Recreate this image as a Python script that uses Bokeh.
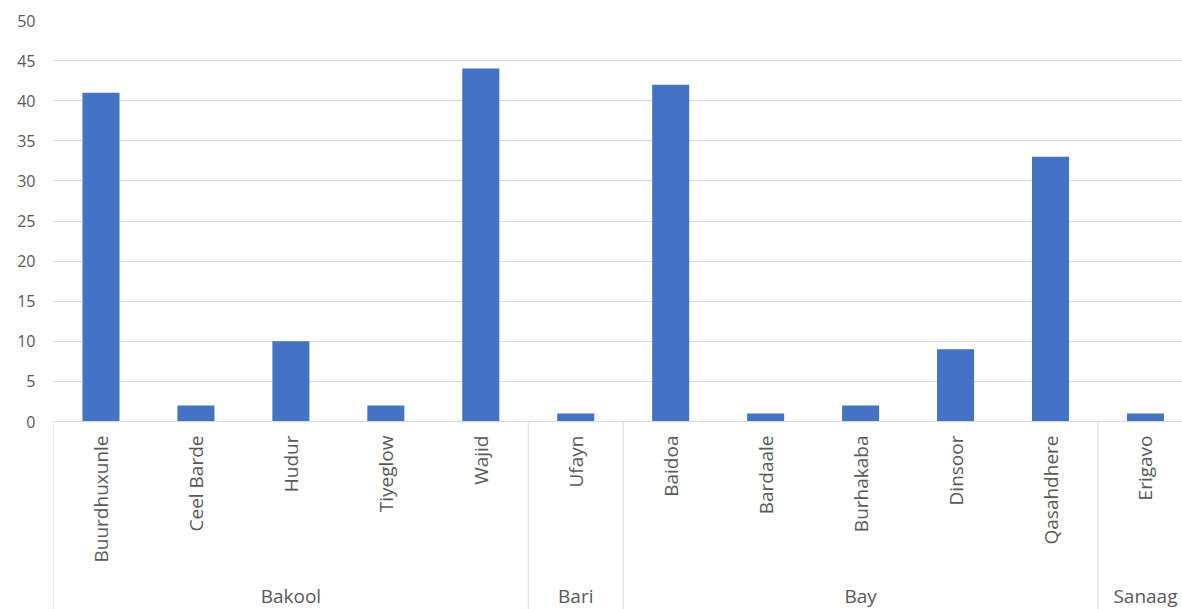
import math

from bokeh.plotting import figure
from bokeh.models import Range1d, LinearAxis, FixedTicker
from bokeh.embed import file_html
from bokeh.resources import INLINE

# Districts grouped by region, with their counts
regions = ["Bakool", "Bakool", "Bakool", "Bakool", "Bakool",
           "Bari",
           "Bay", "Bay", "Bay", "Bay", "Bay",
           "Sanaag"]
districts = ["Buurdhuxunle", "Ceel Barde", "Hudur", "Tiyeglow", "Wajid",
             "Ufayn",
             "Baidoa", "Bardaale", "Burhakaba", "Dinsoor", "Qasahdhere",
             "Erigavo"]
counts = [41, 2, 10, 2, 44, 1, 42, 1, 2, 9, 33, 1]
y_ticks = [0, 5, 10, 15, 20, 25, 30, 35, 40, 45, 50]

FONT = "Open Sans"
TEXT = "#595959"
GRID = "#d9d9d9"
BAR = "#4472C4"

# one slot per district, regions laid out as runs of consecutive slots
pos = list(range(len(districts)))
group_names, group_first, group_last = [], [], []
for i, reg in enumerate(regions):
    if not group_names or group_names[-1] != reg:
        group_names.append(reg)
        group_first.append(i)
        group_last.append(i)
    else:
        group_last[-1] = i
group_centers = [(a + b) / 2 for a, b in zip(group_first, group_last)]
group_edges = [a - 0.5 for a in group_first]

# the visible window stops a little short of the last slot's right edge
x_range = Range1d(-0.5, len(districts) - 0.61)
y_range = Range1d(-23.44, 50)

p = figure(width=1182, height=609, x_range=x_range, y_range=y_range,
           output_backend="svg", toolbar_location=None,
           x_axis_location=None, y_axis_location=None,
           min_border_left=53, min_border_right=0,
           min_border_top=20, min_border_bottom=0)
p.outline_line_color = None
p.background_fill_color = "white"
p.border_fill_color = "white"

# value axis
yticker = FixedTicker(ticks=y_ticks)
yaxis = LinearAxis(ticker=yticker, axis_line_color=None,
                   major_tick_line_color=None, minor_tick_line_color=None,
                   major_tick_out=0, major_tick_in=0, major_label_standoff=18,
                   major_label_text_font=FONT, major_label_text_font_size="16px",
                   major_label_text_color=TEXT)
p.add_layout(yaxis, "left")
p.ygrid.ticker = yticker
p.ygrid.grid_line_color = GRID
p.ygrid.grid_line_width = 1
p.xgrid.grid_line_color = None

# region boundaries running down through the label area
p.segment(x0=group_edges, y0=0, x1=group_edges, y1=y_range.start,
          line_color=GRID, line_width=1)

p.vbar(x=pos, top=counts, width=0.39, color=BAR, line_color=None)

# district names, standing on the zero line
district_axis = LinearAxis(
    fixed_location=0, ticker=FixedTicker(ticks=pos),
    major_label_overrides={i: d for i, d in zip(pos, districts)},
    axis_line_color=GRID, axis_line_width=1,
    major_tick_line_color=None, minor_tick_line_color=None,
    major_tick_out=0, major_tick_in=0,
    major_label_orientation=math.pi / 2, major_label_standoff=14,
    major_label_text_font=FONT, major_label_text_font_size="19px",
    major_label_text_color=TEXT)
p.add_layout(district_axis, "below")

# region names under their districts
region_axis = LinearAxis(
    fixed_location=0, ticker=FixedTicker(ticks=group_centers),
    major_label_overrides={c: g for c, g in zip(group_centers, group_names)},
    axis_line_color=None,
    major_tick_line_color=None, minor_tick_line_color=None,
    major_tick_out=0, major_tick_in=0,
    major_label_standoff=161,
    major_label_text_font=FONT, major_label_text_font_size="19px",
    major_label_text_color=TEXT)
p.add_layout(region_axis, "below")

open("out.html", "w").write(file_html(p, INLINE))
